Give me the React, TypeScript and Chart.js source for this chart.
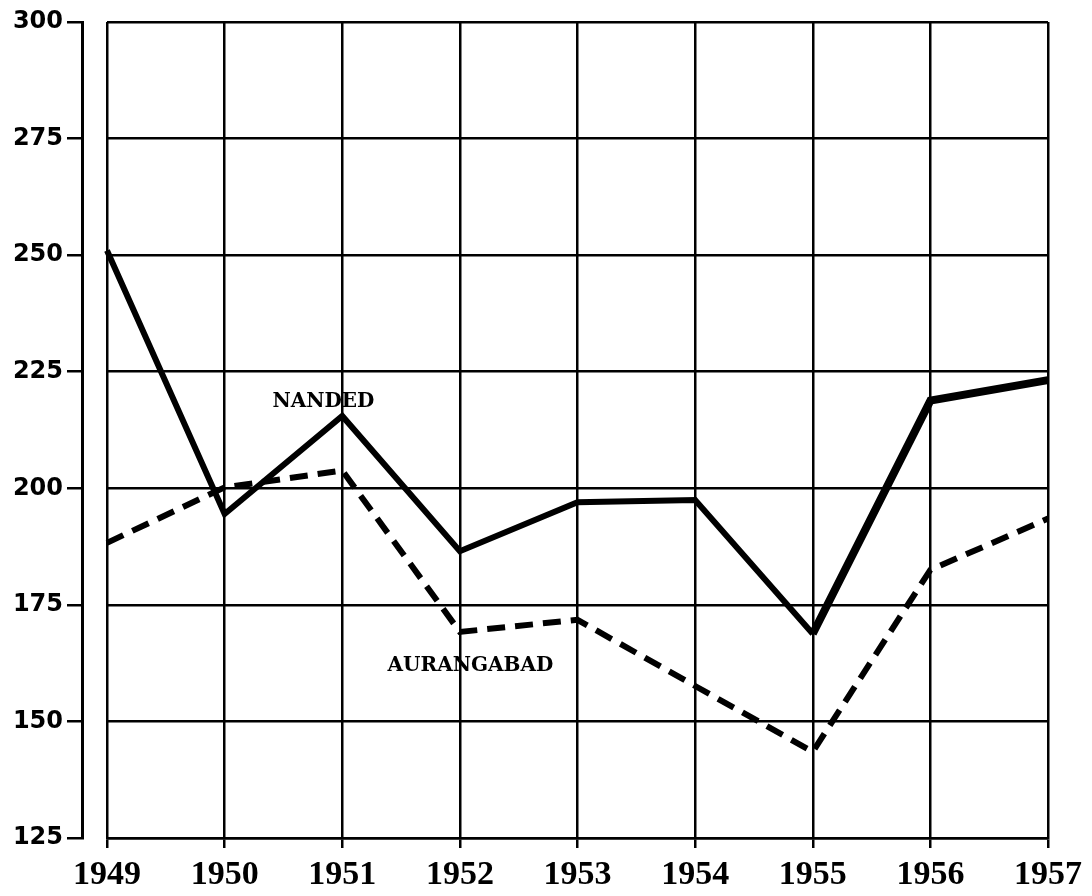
import React, { useEffect, useRef } from "react";
import { Chart, registerables } from "chart.js";

Chart.register(...registerables);

const years = ["1949", "1950", "1951", "1952", "1953", "1954", "1955", "1956", "1957"];
const nanded = [251, 194.5, 215.5, 186.5, 197, 197.5, 168.8, 218.8, 223.2];
const aurangabad = [188.3, 200.2, 203.8, 169.2, 171.8, 157.6, 143.5, 182.5, 193.5];
const yMin = 125;
const yMax = 300;
const yStep = 25;
const seriesLabels = [
  { text: "NANDED", at: 1.84, value: 218.5 },
  { text: "AURANGABAD", at: 3.09, value: 162 },
];

const labelPlugin = {
  id: "seriesLabels",
  afterDatasetsDraw(chart: any) {
    const { ctx, scales } = chart;
    ctx.save();
    ctx.fillStyle = "#000";
    ctx.font = "bold 20px 'DejaVu Serif'";
    ctx.textAlign = "center";
    ctx.textBaseline = "middle";
    for (const l of seriesLabels) {
      ctx.fillText(l.text, scales.x.getPixelForValue(l.at), scales.y.getPixelForValue(l.value));
    }
    ctx.restore();
  },
};

export default function App() {
  const ref = useRef<HTMLCanvasElement>(null);
  useEffect(() => {
    if (!ref.current) return;
    const chart = new Chart(ref.current, {
      type: "line",
      data: {
        labels: years,
        datasets: [
          {
            label: "NANDED",
            data: nanded,
            borderColor: "#000",
            borderWidth: 6,
            pointRadius: 0,
            tension: 0,
            borderJoinStyle: "miter",
            segment: {
              borderWidth: (c: any) => (c.p0DataIndex >= 6 ? 8 : 6),
            },
          },
          {
            label: "AURANGABAD",
            data: aurangabad,
            borderColor: "#000",
            borderWidth: 6,
            borderDash: [18, 10],
            pointRadius: 0,
            tension: 0,
          },
        ],
      },
      options: {
        responsive: false,
        animation: false,
        devicePixelRatio: 1,
        layout: { padding: { top: 22, right: 44, left: 0, bottom: 0 } },
        plugins: { legend: { display: false }, tooltip: { enabled: false } },
        scales: {
          x: {
            type: "category",
            offset: false,
            grid: { color: "#000", lineWidth: 2.5, tickLength: 10, drawTicks: true },
            border: { display: true, color: "#000", width: 2.5 },
            ticks: {
              color: "#000",
              padding: 7,
              maxRotation: 0,
              font: { family: "'Liberation Serif'", size: 34, weight: "bold" },
            },
            afterFit: (s: any) => {
              s.height = 58;
            },
          },
          y: {
            type: "linear",
            position: "left",
            weight: 0,
            min: yMin,
            max: yMax,
            ticks: { display: false, stepSize: yStep },
            grid: { color: "#000", lineWidth: 2.5, drawTicks: false },
            border: { display: false },
            afterFit: (s: any) => {
              s.width = 25;
            },
          },
          y2: {
            type: "linear",
            position: "left",
            weight: 1,
            min: yMin,
            max: yMax,
            ticks: {
              stepSize: yStep,
              color: "#000",
              padding: 4,
              font: { family: "'DejaVu Sans'", size: 24, weight: "bold" },
            },
            grid: { drawOnChartArea: false, color: "#000", lineWidth: 2.5, tickLength: 15 },
            border: { display: true, color: "#000", width: 3 },
            afterFit: (s: any) => {
              s.width = 82;
            },
          },
        },
      },
      plugins: [labelPlugin],
    } as any);
    return () => chart.destroy();
  }, []);
  return (
    <div style={{ position: "absolute", left: 0, top: 0, width: 1092, height: 896, background: "#fff" }}>
      <canvas ref={ref} width={1092} height={896} />
    </div>
  );
}
